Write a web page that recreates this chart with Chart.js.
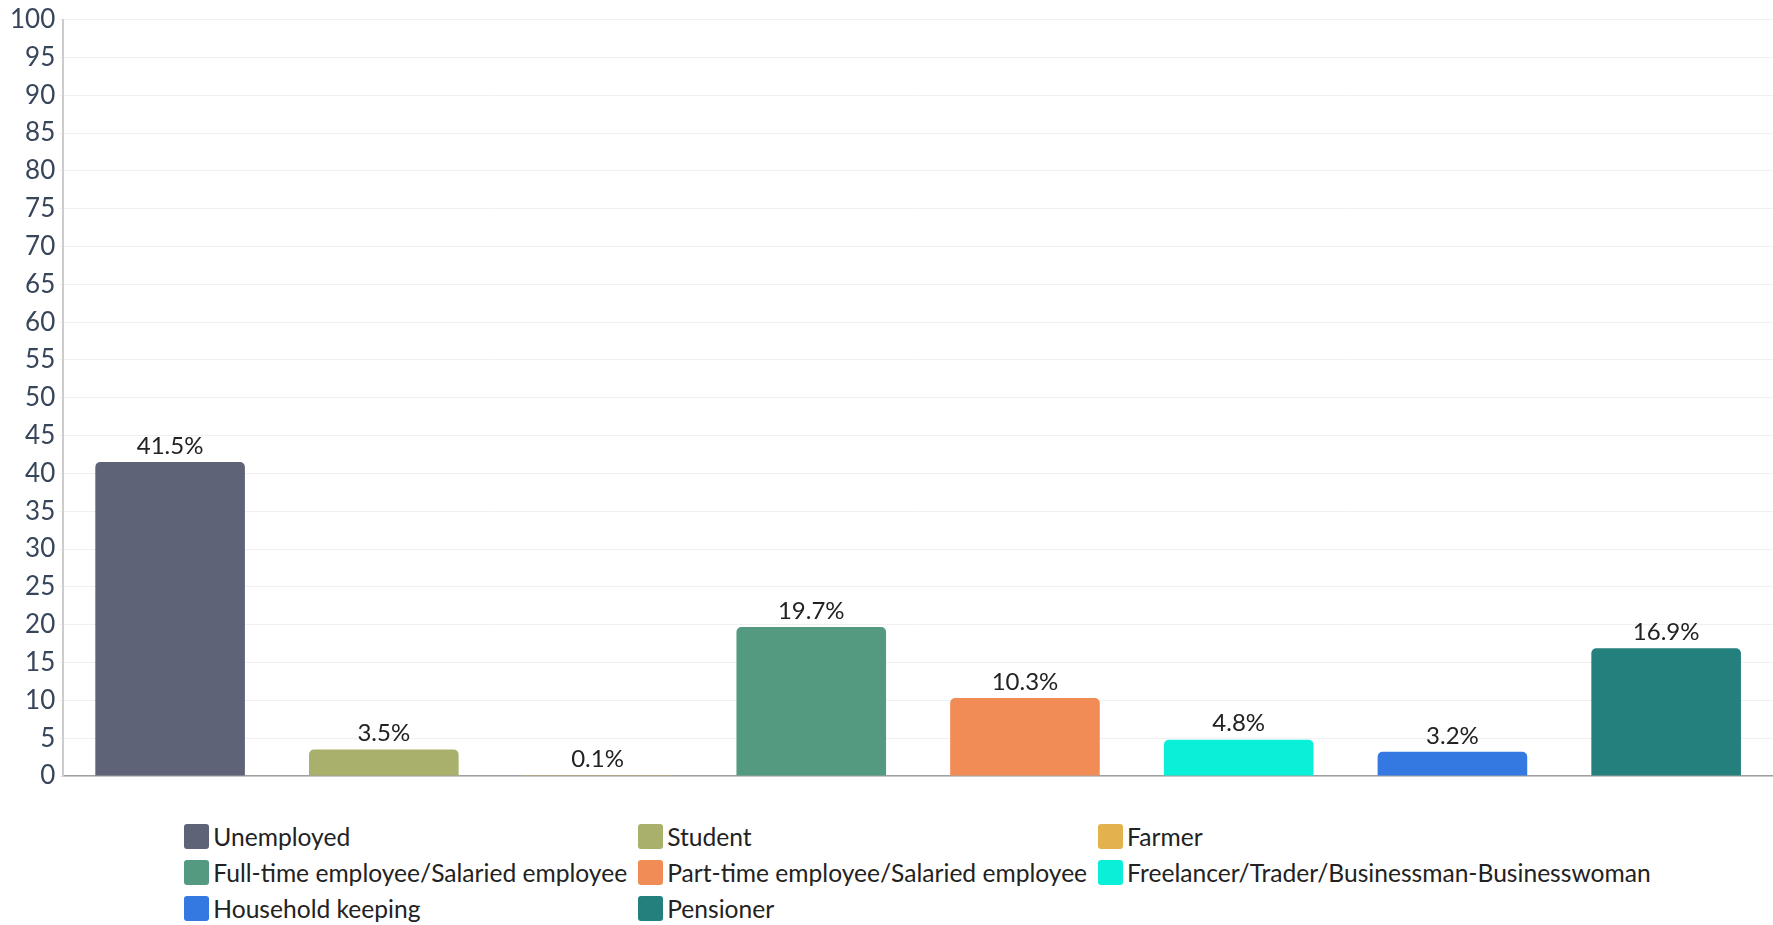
<!DOCTYPE html>
<html>
<head>
<meta charset="utf-8">
<script src="https://cdn.jsdelivr.net/npm/chart.js@4"></script>
<style>
  body { margin: 0; background: #fff; font-family: Lato, sans-serif; }
  #wrap { width: 1773px; height: 800px; position: relative; }
  #legend {
    display: grid;
    grid-template-columns: auto auto auto;
    justify-content: center;
    column-gap: 11px;
    padding: 18px 0 0 62px;
    width: 1711px;
  }
  .item { display: flex; align-items: center; height: 36px; font-size: 24.6px; color: #222; white-space: nowrap; }
  .box { width: 25px; height: 25px; border-radius: 3px; margin-right: 4px; flex: none; }
</style>
</head>
<body>
<div id="wrap"><canvas id="barChart"></canvas></div>
<div id="legend"></div>
<script>
const categories = ['Unemployed', 'Student', 'Farmer', 'Full-time employee/Salaried employee',
  'Part-time employee/Salaried employee', 'Freelancer/Trader/Businessman-Businesswoman',
  'Household keeping', 'Pensioner'];
const shares = [41.5, 3.5, 0.1, 19.7, 10.3, 4.8, 3.2, 16.9];
const barColors = ['#5e6378', '#a8b06b', '#e3b24d', '#539a80', '#f28c56', '#0af0d8', '#3479e1', '#24807c'];
const yTicks = [0, 5, 10, 15, 20, 25, 30, 35, 40, 45, 50, 55, 60, 65, 70, 75, 80, 85, 90, 95, 100];

// percentage text above each bar
const valueLabels = {
  id: 'valueLabels',
  afterDatasetsDraw(chart) {
    const ctx = chart.ctx;
    const meta = chart.getDatasetMeta(0);
    ctx.save();
    ctx.font = '24px Lato';
    ctx.fillStyle = '#222';
    ctx.textAlign = 'center';
    ctx.textBaseline = 'bottom';
    meta.data.forEach((bar, i) => {
      ctx.fillText(shares[i].toFixed(1) + '%', bar.x, bar.y - 4);
    });
    ctx.restore();
  }
};

const ctx = document.getElementById('barChart').getContext('2d');
const barChart = new Chart(ctx, {
  type: 'bar',
  data: {
    labels: categories,
    datasets: [{
      data: shares,
      backgroundColor: barColors,
      borderRadius: { topLeft: 5, topRight: 5 },
      borderSkipped: 'start',
      categoryPercentage: 0.7,
      barPercentage: 1.0
    }]
  },
  options: {
    responsive: true,
    maintainAspectRatio: false,
    animation: false,
    layout: { padding: { top: 3, right: 0, bottom: 16, left: 6 } },
    plugins: {
      legend: { display: false },
      tooltip: { enabled: false }
    },
    scales: {
      x: {
        ticks: { display: false },
        grid: { display: false },
        border: { color: '#a0a0a0', width: 1.5 }
      },
      y: {
        min: 0,
        max: 100,
        afterBuildTicks(scale) {
          scale.ticks = yTicks.map(v => ({ value: v }));
        },
        ticks: {
          color: '#37465a',
          font: { family: 'Lato', size: 26 },
          padding: 4
        },
        grid: { color: '#f0f0f0', lineWidth: 1, tickLength: 4 },
        border: { color: '#cccccc', width: 2 }
      }
    }
  },
  plugins: [valueLabels]
});

// legend laid out as a three-column grid
const legendEl = document.getElementById('legend');
categories.forEach((name, i) => {
  const item = document.createElement('div');
  item.className = 'item';
  const box = document.createElement('span');
  box.className = 'box';
  box.style.background = barColors[i];
  item.appendChild(box);
  item.appendChild(document.createTextNode(name));
  legendEl.appendChild(item);
});
</script>
</body>
</html>
